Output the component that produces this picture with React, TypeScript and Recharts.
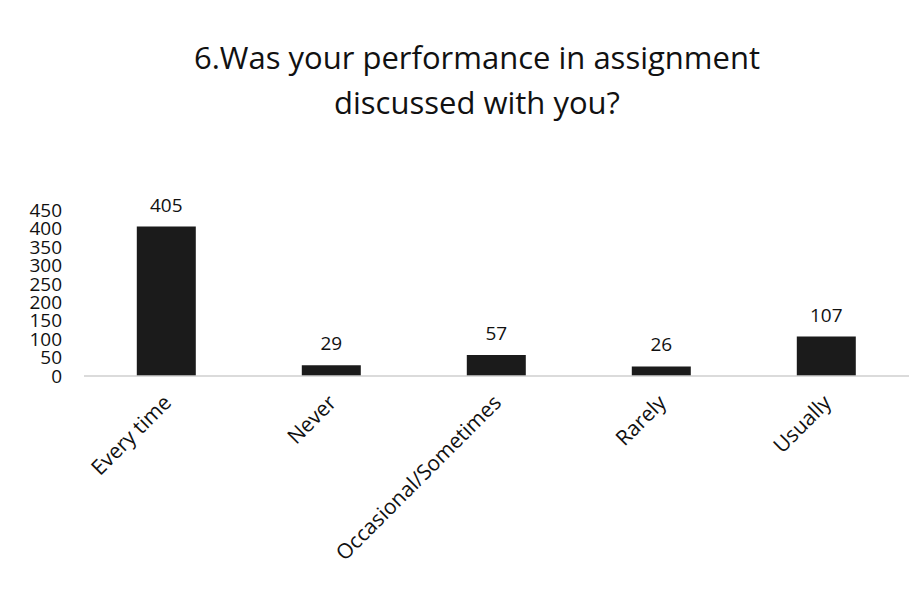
import { BarChart, Bar, XAxis, YAxis, LabelList } from "recharts";

const categories = ["Every time", "Never", "Occasional/Sometimes", "Rarely", "Usually"];
const responses = [405, 29, 57, 26, 107];
const yTicks = [0, 50, 100, 150, 200, 250, 300, 350, 400, 450];

const data = categories.map((name, i) => ({ name, value: responses[i] }));

const FONT = "'Open Sans', 'Noto Sans', sans-serif";

function RotatedTick({ x, y, payload }: { x?: number; y?: number; payload?: { value: string } }) {
  return (
    <g transform={`translate(${(x ?? 0) + 6},${(y ?? 0) + 20})`}>
      <text
        x={0}
        y={0}
        textAnchor="end"
        transform="rotate(-45)"
        fontSize={21}
        fontFamily={FONT}
        fill="#111"
      >
        {payload?.value}
      </text>
    </g>
  );
}

export default function App() {
  return (
    <div
      style={{
        position: "absolute",
        left: 0,
        top: 0,
        width: 924,
        height: 589,
        background: "#fff",
        fontFamily: FONT,
      }}
    >
      <div
        style={{
          position: "absolute",
          left: 0,
          top: 35,
          width: 954,
          textAlign: "center",
          fontSize: 31,
          lineHeight: "45px",
          color: "#111",
        }}
      >
        6.Was your performance in assignment
        <br />
        discussed with you?
      </div>
      <BarChart
        width={924}
        height={589}
        data={data}
        margin={{ top: 210, right: 15, left: 0, bottom: 0 }}
        barCategoryGap="32%"
      >
        <XAxis
          dataKey="name"
          interval={0}
          tickLine={false}
          axisLine={{ stroke: "#cfcfcf", strokeWidth: 1.5 }}
          tick={<RotatedTick />}
          height={213}
        />
        <YAxis
          domain={[0, 450]}
          ticks={yTicks}
          interval={0}
          width={84}
          axisLine={false}
          tickLine={false}
          tickSize={0}
          tickMargin={22}
          tick={{ fontSize: 19, fill: "#111", fontFamily: FONT }}
        />
        <Bar dataKey="value" fill="#1b1b1b" isAnimationActive={false}>
          <LabelList
            dataKey="value"
            position="top"
            offset={15}
            fontSize={19}
            fill="#111"
            fontFamily={FONT}
          />
        </Bar>
      </BarChart>
    </div>
  );
}
